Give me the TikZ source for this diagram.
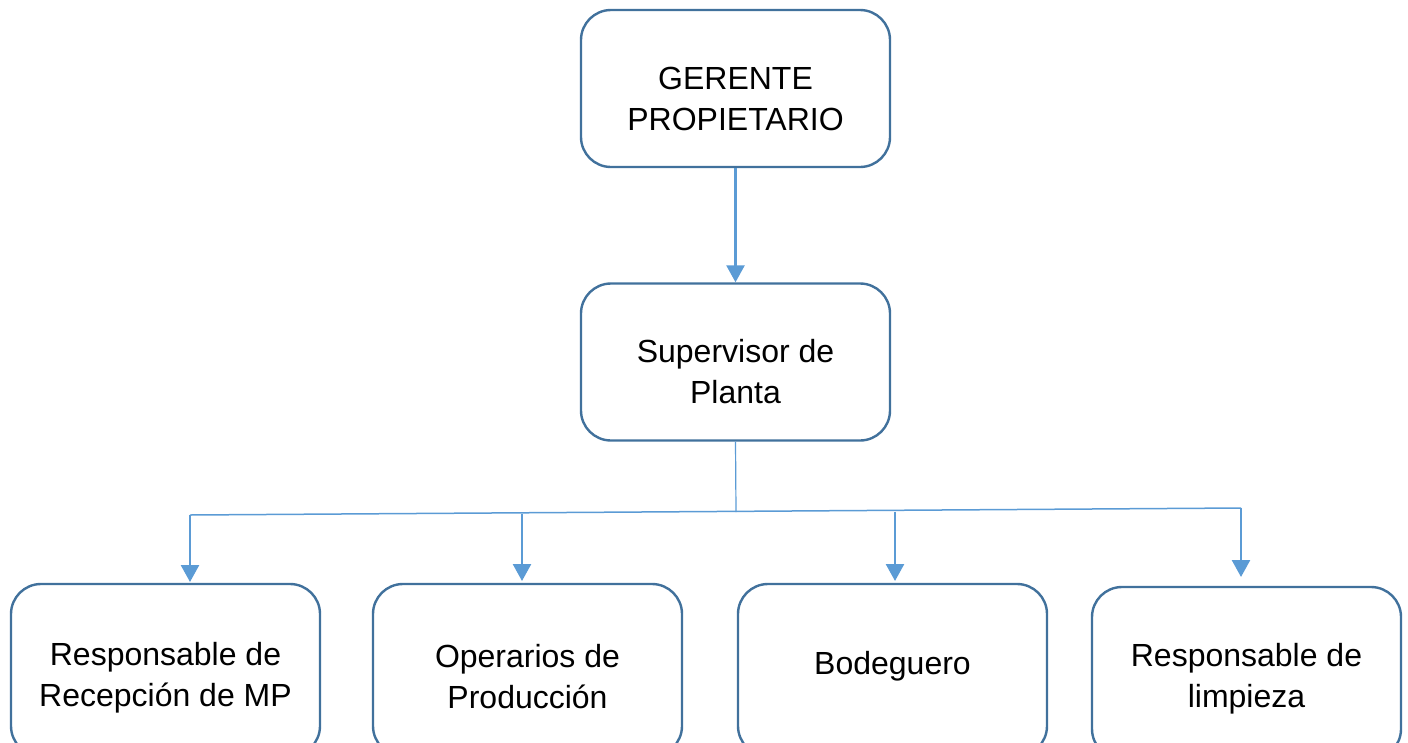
\documentclass[tikz,border=0pt]{standalone}
\usepackage{fontspec}
\setmainfont{Liberation Sans}
\usetikzlibrary{arrows.meta,calc}
\definecolor{boxblue}{HTML}{41719C}
\definecolor{lineblue}{HTML}{5B9BD5}
\tikzset{
  orgbox/.style={draw=boxblue, line width=2.4pt, fill=white, rounded corners=30pt,
    minimum width=309pt, minimum height=157pt, inner sep=0pt},
  lowbox/.style={orgbox, minimum height=172pt},
  lbl/.style={align=center, font=\fontsize{32}{41}\selectfont, text=black, inner sep=0pt},
  arr/.style={draw=lineblue, line width=2.6pt, -{Triangle[width=18pt,length=17pt]}},
  thinline/.style={draw=lineblue, line width=1.5pt}
}
\begin{document}
\begin{tikzpicture}[x=1pt,y=-1pt]
\useasboundingbox (0,0) rectangle (1408,742);
% boxes
\node[orgbox] (g) at (735.5,88.5) {};
\node[orgbox] (s) at (735.5,362) {};
\node[lowbox] (b1) at (165.5,670) {};
\node[lowbox] (b2) at (527.5,670) {};
\node[lowbox] (b3) at (892.5,670) {};
\node[lowbox] (b4) at (1246.5,673) {};
% labels
\node[lbl] (tg) at ($(g.center)+(0,10)$) {GERENTE\\PROPIETARIO};
\node[lbl] (ts) at ($(s.center)+(0,10)$) {Supervisor de\\Planta};
\node[lbl] (t1) at ($(b1.center)+(0,8)$) {Responsable de\\Recepción de MP};
\node[lbl] (t2) at ($(b2.center)+(0,7)$) {Operarios de\\Producción};
\node[lbl] (t3) at ($(b3.center)+(0,-4)$) {Bodeguero};
\node[lbl] (t4) at ($(b4.center)+(0,6)$) {Responsable de\\limpieza};
% connectors
\draw[arr] (g.south) -- (s.north);
\coordinate (j) at (736,512);
\coordinate (a1) at (190,515);
\coordinate (a2) at (522,514.3);
\coordinate (a3) at (895,511.5);
\coordinate (a4) at (1241,508);
\coordinate (e1) at (190,582);
\coordinate (e2) at (522,581);
\coordinate (e3) at (895,581);
\coordinate (e4) at (1241,577);
\draw[draw=lineblue, line width=1.2pt] (s.south) -- (j);
\draw[thinline] (a1) -- (a4);
\draw[arr] (a1) -- (e1);
\draw[arr] (a2) -- (e2);
\draw[arr] (a3) -- (e3);
\draw[arr] (a4) -- (e4);
\end{tikzpicture}
\end{document}
